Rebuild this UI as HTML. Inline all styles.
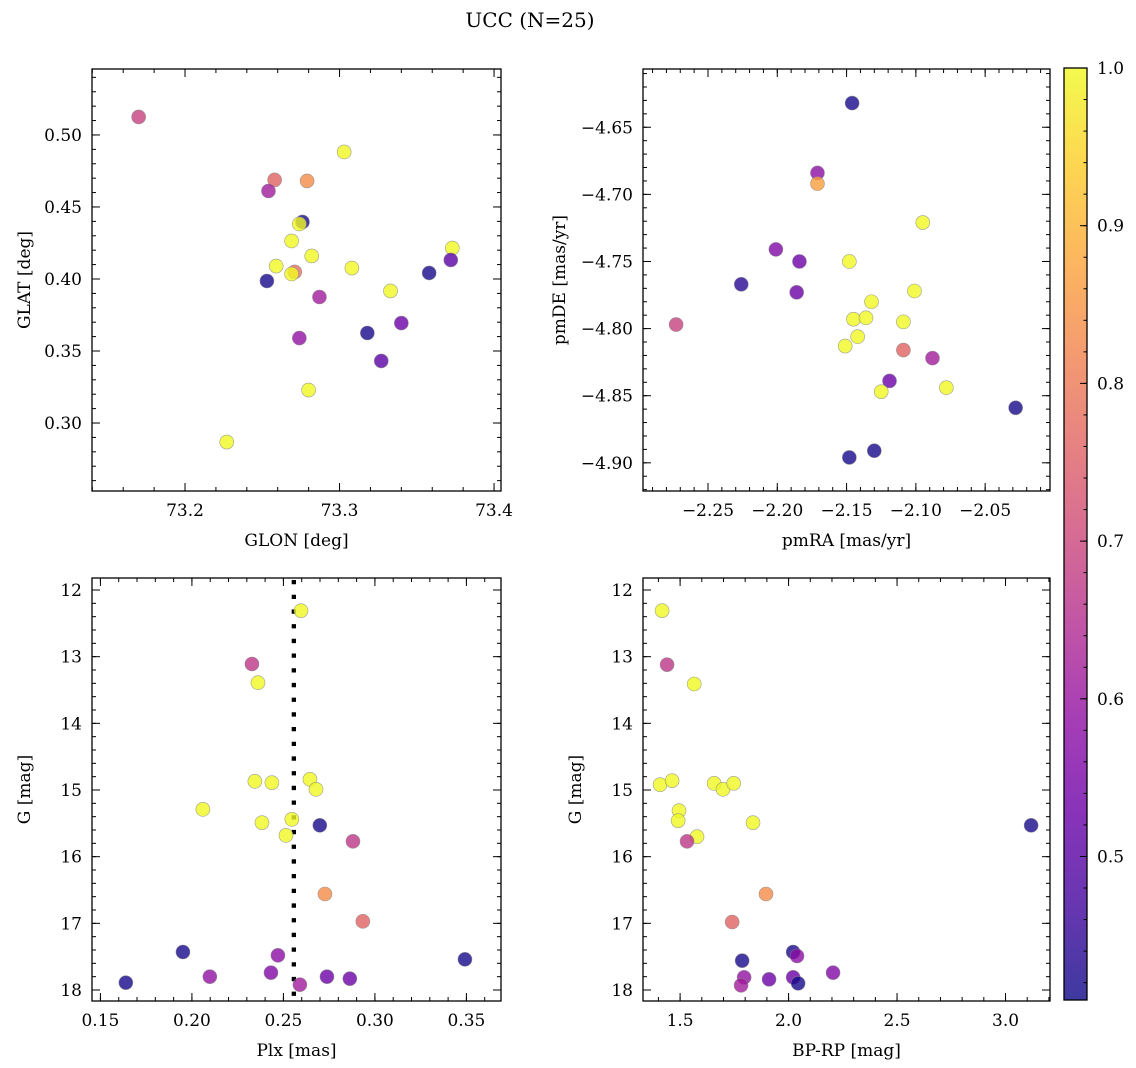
<!DOCTYPE html>
<html><head><meta charset="utf-8"><style>
html,body{margin:0;padding:0;background:#fff;}
svg{display:block;font-family:"DejaVu Serif","Liberation Serif",serif;}
</style></head><body>
<svg id="fig" width="1136" height="1068" viewBox="0 0 1136 1068" xmlns="http://www.w3.org/2000/svg">
<defs>
<linearGradient id="plasmaGrad" x1="0" y1="1" x2="0" y2="0">
<stop offset="0" stop-color="#0d0887"/><stop offset="0.1" stop-color="#41049d"/><stop offset="0.2" stop-color="#6a00a8"/><stop offset="0.3" stop-color="#8f0da4"/><stop offset="0.4" stop-color="#b12a90"/><stop offset="0.5" stop-color="#cc4778"/><stop offset="0.6" stop-color="#e16462"/><stop offset="0.7" stop-color="#f2844b"/><stop offset="0.8" stop-color="#fca636"/><stop offset="0.9" stop-color="#fcce25"/><stop offset="1" stop-color="#f0f921"/>
</linearGradient>
</defs>
<text x="530" y="27" font-size="20" text-anchor="middle">UCC (N=25)</text>
</svg>
<script>
// ---- data ----
const glon = [73.170,73.303,73.258,73.279,73.254,73.276,73.274,73.269,73.282,73.259,73.308,73.373,73.372,73.358,73.271,73.269,73.253,73.333,73.287,73.340,73.318,73.274,73.327,73.280,73.227];
const glat = [0.5125,0.4882,0.4688,0.4681,0.4611,0.4396,0.4382,0.4264,0.4160,0.4090,0.4076,0.4215,0.4132,0.4042,0.4049,0.4035,0.3986,0.3917,0.3875,0.3694,0.3625,0.3590,0.3431,0.3229,0.2868];
const cPos = [0.69,1,0.76,0.835,0.615,0.42,1,1,1,1,1,1,0.506,0.42,0.78,1,0.42,1,0.615,0.528,0.42,0.59,0.506,1,1];

const pmra = [-2.146,-2.171,-2.171,-2.095,-2.201,-2.184,-2.148,-2.226,-2.101,-2.186,-2.132,-2.273,-2.145,-2.136,-2.109,-2.142,-2.151,-2.109,-2.088,-2.119,-2.125,-2.078,-2.028,-2.130,-2.148];
const pmde = [-4.632,-4.684,-4.692,-4.721,-4.741,-4.750,-4.750,-4.767,-4.772,-4.773,-4.780,-4.797,-4.793,-4.792,-4.795,-4.806,-4.813,-4.816,-4.822,-4.839,-4.847,-4.844,-4.859,-4.891,-4.896];
const cPm = [0.42,0.58,0.868,1,0.56,0.528,1,0.44,1,0.528,1,0.69,1,1,1,1,1,0.76,0.615,0.528,1,1,0.42,0.42,0.42];

const plx = [0.2596,0.2328,0.2361,0.2344,0.2437,0.2645,0.2678,0.2060,0.2383,0.2546,0.2699,0.2514,0.2880,0.2727,0.2934,0.1951,0.2470,0.3492,0.2098,0.2432,0.2738,0.2863,0.1639,0.2590];
const gPlx = [12.31,13.11,13.39,14.87,14.89,14.84,14.99,15.29,15.49,15.44,15.53,15.68,15.77,16.56,16.97,17.43,17.48,17.54,17.80,17.74,17.80,17.83,17.89,17.92];
const cPlx = [1,0.67,1,1,1,1,1,1,1,1,0.42,1,0.67,0.835,0.76,0.42,0.58,0.42,0.59,0.56,0.528,0.528,0.42,0.615];
const plxMedian = 0.2557;

const bprp = [1.417,1.440,1.565,1.408,1.463,1.657,1.698,1.747,1.495,1.491,1.836,1.578,1.532,3.118,1.896,1.740,1.786,2.021,2.039,1.795,1.910,2.021,2.205,2.044,1.781];
const gCmd = [12.31,13.12,13.41,14.92,14.86,14.90,14.99,14.90,15.31,15.46,15.49,15.70,15.77,15.53,16.56,16.98,17.56,17.43,17.49,17.81,17.84,17.81,17.74,17.90,17.93];
const cCmd = [1,0.67,1,1,1,1,1,1,1,1,1,1,0.67,0.42,0.835,0.76,0.42,0.42,0.58,0.59,0.528,0.528,0.56,0.42,0.615];

const ticksGlon = [73.2,73.3,73.4], labelsGlon = ["73.2","73.3","73.4"];
const ticksGlat = [0.30,0.35,0.40,0.45,0.50], labelsGlat = ["0.30","0.35","0.40","0.45","0.50"];
const ticksPmra = [-2.25,-2.20,-2.15,-2.10,-2.05], labelsPmra = ["−2.25","−2.20","−2.15","−2.10","−2.05"];
const ticksPmde = [-4.90,-4.85,-4.80,-4.75,-4.70,-4.65], labelsPmde = ["−4.90","−4.85","−4.80","−4.75","−4.70","−4.65"];
const ticksPlx = [0.15,0.20,0.25,0.30,0.35], labelsPlx = ["0.15","0.20","0.25","0.30","0.35"];
const ticksG = [12,13,14,15,16,17,18], labelsG = ["12","13","14","15","16","17","18"];
const ticksBprp = [1.5,2.0,2.5,3.0], labelsBprp = ["1.5","2.0","2.5","3.0"];
const ticksCbar = [0.5,0.6,0.7,0.8,0.9,1.0], labelsCbar = ["0.5","0.6","0.7","0.8","0.9","1.0"];

// ---- rendering ----
const NS = "http://www.w3.org/2000/svg";
const svg = document.getElementById('fig');
const VMIN = 0.409, VMAX = 1.0;
const stops = [[0,13,8,135],[0.1,65,4,157],[0.2,106,0,168],[0.3,143,13,164],[0.4,177,42,144],[0.5,204,71,120],[0.6,225,100,98],[0.7,242,132,75],[0.8,252,166,54],[0.9,252,206,37],[1,240,249,33]];
function plasma(v){
  let t = Math.max(0,Math.min(1,(v-VMIN)/(VMAX-VMIN)));
  for(let i=1;i<stops.length;i++){ if(t<=stops[i][0]){ const a=stops[i-1],b=stops[i],f=(t-a[0])/(b[0]-a[0]);
    return `rgb(${Math.round(a[1]+f*(b[1]-a[1]))},${Math.round(a[2]+f*(b[2]-a[2]))},${Math.round(a[3]+f*(b[3]-a[3]))})`; } }
  return 'rgb(240,249,33)';
}
function mk(tag, attrs, parent){ const e=document.createElementNS(NS,tag); for(const k in attrs) e.setAttribute(k,attrs[k]); (parent||svg).appendChild(e); return e; }

function makeAxes(name, box, xlim, ylim, yInvert, xt, xl, yt, yl, xMinorStep, yMinorStep, xlabel, ylabel){
  const g = mk('g',{});
  
  
  const sx = v => box.x + (v - xlim[0])/(xlim[1]-xlim[0])*box.w;
  const sy = v => yInvert ? box.y + (v - ylim[0])/(ylim[1]-ylim[0])*box.h : box.y + box.h - (v - ylim[0])/(ylim[1]-ylim[0])*box.h;
  const tickG = mk('g',{stroke:'#000','stroke-width':1},g);
  function ticksX(step, len){ const s=Math.ceil(xlim[0]/step-1e-6); for(let i=s; i*step<=xlim[1]+1e-9; i++){ const px=sx(i*step);
      mk('line',{x1:px,y1:box.y+box.h,x2:px,y2:box.y+box.h-len},tickG); mk('line',{x1:px,y1:box.y,x2:px,y2:box.y+len},tickG);} }
  function ticksY(step, len){ const lo=Math.min(ylim[0],ylim[1]), hi=Math.max(ylim[0],ylim[1]); const s=Math.ceil(lo/step-1e-6); for(let i=s; i*step<=hi+1e-9; i++){ const py=sy(i*step);
      mk('line',{x1:box.x,y1:py,x2:box.x+len,y2:py},tickG); mk('line',{x1:box.x+box.w,y1:py,x2:box.x+box.w-len,y2:py},tickG);} }
  ticksX(xMinorStep,4); ticksY(yMinorStep,4);
  xt.forEach((v,i)=>{ const px=sx(v); mk('line',{x1:px,y1:box.y+box.h,x2:px,y2:box.y+box.h-8},tickG); mk('line',{x1:px,y1:box.y,x2:px,y2:box.y+8},tickG);
    const t=mk('text',{x:px,y:box.y+box.h+25,'font-size':17,'text-anchor':'middle'},g); t.textContent=xl[i];
    
     });
  yt.forEach((v,i)=>{ const py=sy(v); mk('line',{x1:box.x,y1:py,x2:box.x+8,y2:py},tickG); mk('line',{x1:box.x+box.w,y1:py,x2:box.x+box.w-8,y2:py},tickG);
    const t=mk('text',{x:box.x-10,y:py+6,'font-size':17,'text-anchor':'end'},g); t.textContent=yl[i];
    
     });
  const xlab = mk('text',{x:box.x+box.w/2,y:box.y+box.h+55,'font-size':17,'text-anchor':'middle'},g); xlab.textContent=xlabel;
  
  
  const lx = box.x - (ylabel.startsWith('pm')?78:62), ly = box.y+box.h/2;
  const ylab = mk('text',{x:lx,y:ly,'font-size':17,'text-anchor':'middle',transform:`rotate(-90 ${lx} ${ly})`},g); ylab.textContent=ylabel;
  
  
  const frame = mk('rect',{x:box.x,y:box.y,width:box.w,height:box.h,fill:'none',stroke:'#000','stroke-width':1.3},g);
  
  
  return {g,sx,sy,box};
}
function scatter(ax, xs, ys, cs){
  const pg = mk('g',{},ax.g);
  
  
  xs.forEach((x,i)=>{ const c = mk('circle',{cx:ax.sx(x),cy:ax.sy(ys[i]),r:7,fill:plasma(cs[i]),'fill-opacity':0.8,stroke:'#888','stroke-width':0.6,'stroke-opacity':0.8},pg);
    
     });
}

const a1 = makeAxes('glon-glat-panel',{x:92,y:69,w:409,h:422},[73.1398,73.4045],[0.2528,0.5458],false,ticksGlon,labelsGlon,ticksGlat,labelsGlat,0.02,0.01,'GLON [deg]','GLAT [deg]');
scatter(a1, glon, glat, cPos);
const a2 = makeAxes('pm-panel',{x:643,y:69,w:407,h:422},[-2.2969,-2.0032],[-4.921,-4.6066],false,ticksPmra,labelsPmra,ticksPmde,labelsPmde,0.01,0.01,'pmRA [mas/yr]','pmDE [mas/yr]');
scatter(a2, pmra, pmde, cPm);
const a3 = makeAxes('plx-g-panel',{x:92,y:578,w:409,h:423},[0.1454,0.3689],[11.82,18.165],true,ticksPlx,labelsPlx,ticksG,labelsG,0.01,0.2,'Plx [mas]','G [mag]');
const med = mk('line',{x1:a3.sx(plxMedian),y1:580,x2:a3.sx(plxMedian),y2:1001,stroke:'#000','stroke-width':4.3,'stroke-dasharray':'4.3 10.4'},a3.g);


scatter(a3, plx, gPlx, cPlx);
const a4 = makeAxes('cmd-panel',{x:643,y:578,w:407,h:423},[1.329,3.205],[11.82,18.165],true,ticksBprp,labelsBprp,ticksG,labelsG,0.1,0.2,'BP-RP [mag]','G [mag]');
scatter(a4, bprp, gCmd, cCmd);

// colorbar
const cb = mk('g',{});


const cbBox = {x:1064,y:68,w:23,h:932};
mk('rect',{x:cbBox.x,y:cbBox.y,width:cbBox.w,height:cbBox.h,fill:'url(#plasmaGrad)','fill-opacity':0.8},cb);
const cy = v => cbBox.y + cbBox.h - (v-VMIN)/(VMAX-VMIN)*cbBox.h;
for(let i=21;i<=50;i++){ const v=i*0.02; if(v<VMIN-1e-9) continue; mk('line',{x1:cbBox.x+cbBox.w,y1:cy(v),x2:cbBox.x+cbBox.w-3.5,y2:cy(v),stroke:'#000','stroke-width':1},cb); }
ticksCbar.forEach((v,i)=>{ mk('line',{x1:cbBox.x+cbBox.w,y1:cy(v),x2:cbBox.x+cbBox.w-7,y2:cy(v),stroke:'#000','stroke-width':1},cb);
  const t=mk('text',{x:cbBox.x+cbBox.w+10,y:cy(v)+6,'font-size':17},cb); t.textContent=labelsCbar[i];
  
   });
mk('rect',{x:cbBox.x,y:cbBox.y,width:cbBox.w,height:cbBox.h,fill:'none',stroke:'#000','stroke-width':1.3},cb);
</script>
</body></html>
